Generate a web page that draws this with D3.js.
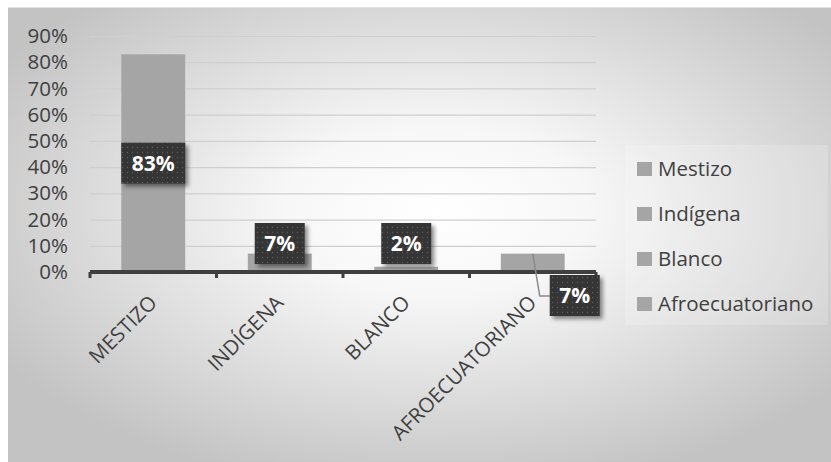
<!DOCTYPE html>
<html>
<head>
<meta charset="utf-8">
<script src="https://cdn.jsdelivr.net/npm/d3@7"></script>
<style>
  html, body { margin: 0; padding: 0; background: #ffffff; }
  svg { display: block; }
  text { font-family: "Open Sans", "Noto Sans", sans-serif; }
</style>
</head>
<body>
<svg id="chart" width="831" height="462"></svg>
<script>
// Population share by self-identified ethnic group
const categories = ["MESTIZO", "INDÍGENA", "BLANCO", "AFROECUATORIANO"];
const legendNames = ["Mestizo", "Indígena", "Blanco", "Afroecuatoriano"];
const values = [0.83, 0.07, 0.02, 0.07];
const yTicks = [0, 0.1, 0.2, 0.3, 0.4, 0.5, 0.6, 0.7, 0.8, 0.9];

const W = 831, H = 462;
const plot = { left: 90, right: 596, top: 36, bottom: 272 };

const svg = d3.select("#chart");
const defs = svg.append("defs");

// soft radial backdrop
const grad = defs.append("radialGradient")
  .attr("id", "bg").attr("cx", "52%").attr("cy", "45%").attr("r", "62%");
grad.append("stop").attr("offset", "0%").attr("stop-color", "#ffffff");
grad.append("stop").attr("offset", "30%").attr("stop-color", "#f7f7f7");
grad.append("stop").attr("offset", "100%").attr("stop-color", "#c3c3c3");

// dotted dark fill for the data labels
const pat = defs.append("pattern")
  .attr("id", "dots").attr("width", 5).attr("height", 5)
  .attr("patternUnits", "userSpaceOnUse");
pat.append("rect").attr("width", 5).attr("height", 5).attr("fill", "#353535");
pat.append("circle").attr("cx", 2.5).attr("cy", 2.5).attr("r", 0.7).attr("fill", "#5c5c5c");

const shadow = defs.append("filter").attr("id", "shadow")
  .attr("x", "-20%").attr("y", "-20%").attr("width", "150%").attr("height", "150%");
shadow.append("feDropShadow")
  .attr("dx", 3).attr("dy", 3).attr("stdDeviation", 2)
  .attr("flood-color", "#000").attr("flood-opacity", 0.45);

// chart area
svg.append("rect")
  .attr("x", 8).attr("y", 7).attr("width", W - 8).attr("height", H - 7)
  .attr("fill", "url(#bg)");
svg.append("line")
  .attr("x1", 8).attr("x2", W).attr("y1", 7.5).attr("y2", 7.5)
  .attr("stroke", "#e2e2e2").attr("stroke-width", 1);

const x = d3.scaleBand().domain(categories).range([plot.left, plot.right]).padding(0);
const y = d3.scaleLinear().domain([0, 0.9]).range([plot.bottom, plot.top]);

// gridlines
const grid = svg.append("g")
  .attr("transform", `translate(${plot.left},0)`)
  .call(d3.axisLeft(y).tickValues(yTicks).tickSize(-(plot.right - plot.left)).tickFormat(""));
grid.select(".domain").remove();
grid.selectAll("line").attr("stroke", "#cfcfcf").attr("stroke-width", 1.2);

// y-axis labels
const yAxis = svg.append("g")
  .attr("transform", `translate(${plot.left},0)`)
  .call(d3.axisLeft(y).tickValues(yTicks).tickSize(0).tickPadding(22).tickFormat(d3.format(".0%")));
yAxis.select(".domain").remove();
yAxis.selectAll("text")
  .attr("fill", "#404040")
  .style("font-size", "20.5px")
  .style("font-family", '"Open Sans", sans-serif');

// bars
const barW = x.bandwidth() * 0.505;
svg.append("g").selectAll("rect")
  .data(values)
  .join("rect")
  .attr("x", (d, i) => x(categories[i]) + (x.bandwidth() - barW) / 2)
  .attr("width", barW)
  .attr("y", d => y(d))
  .attr("height", d => y(0) - y(d))
  .attr("fill", "#a5a5a5");

// category axis
const xAxis = svg.append("g")
  .attr("transform", `translate(0,${plot.bottom})`)
  .call(d3.axisBottom(x).tickSize(0).tickFormat(""));
xAxis.select(".domain").remove();
xAxis.append("line")
  .attr("x1", plot.left).attr("x2", plot.right)
  .attr("y1", 0).attr("y2", 0)
  .attr("stroke", "#3f3f3f").attr("stroke-width", 4);
const tickXs = categories.map(c => x(c)).concat([plot.right]);
xAxis.selectAll(".tk")
  .data(tickXs)
  .join("line")
  .attr("class", "tk")
  .attr("x1", d => d).attr("x2", d => d)
  .attr("y1", 0).attr("y2", 6)
  .attr("stroke", "#3f3f3f").attr("stroke-width", 3);

// rotated category labels
svg.append("g").selectAll("text")
  .data(categories)
  .join("text")
  .attr("transform", d => `translate(${x(d) + x.bandwidth() / 2 + 5},${plot.bottom + 32}) rotate(-45)`)
  .attr("text-anchor", "end")
  .attr("fill", "#404040")
  .style("font-size", "20.5px")
  .text(d => d);

// data labels
const labels = svg.append("g");
values.forEach((v, i) => {
  const cx = x(categories[i]) + x.bandwidth() / 2;
  const txt = d3.format(".0%")(v);
  const bw = txt.length === 3 ? 64 : 50;
  const bh = 41;
  let bx = cx - bw / 2, by;
  if (i === 0) {
    by = (y(v) + y(0)) / 2 - bh / 2;
  } else if (i < 3) {
    by = y(0) - 49;
  } else {
    // callout below the axis with a leader line
    bx = cx + 17;
    by = y(0) + 3;
    const lx = cx;
    labels.append("polyline")
      .attr("points", `${lx},${y(v)} ${lx + 7},${by + 21} ${bx},${by + 21}`)
      .attr("fill", "none").attr("stroke", "#8a8a8a").attr("stroke-width", 1.5);
  }
  labels.append("rect")
    .attr("x", bx).attr("y", by).attr("width", bw).attr("height", bh)
    .attr("fill", "url(#dots)")
    .attr("filter", "url(#shadow)");
  labels.append("text")
    .attr("x", bx + bw / 2).attr("y", by + bh / 2)
    .attr("dy", "0.36em")
    .attr("text-anchor", "middle")
    .attr("fill", "#ffffff")
    .style("font-size", "21px")
    .style("font-weight", "700")
    .text(txt);
});

// legend
const legend = svg.append("g");
legend.append("rect")
  .attr("x", 625).attr("y", 145).attr("width", 203).attr("height", 180)
  .attr("fill", "#ffffff").attr("opacity", 0.18);
const li = legend.selectAll("g.item")
  .data(legendNames)
  .join("g")
  .attr("class", "item")
  .attr("transform", (d, i) => `translate(637,${162 + i * 45})`);
li.append("rect")
  .attr("width", 15).attr("height", 14)
  .attr("fill", "#a5a5a5");
li.append("text")
  .attr("x", 21).attr("y", 14)
  .attr("fill", "#404040")
  .style("font-size", "20.5px")
  .text(d => d);
</script>
</body>
</html>
